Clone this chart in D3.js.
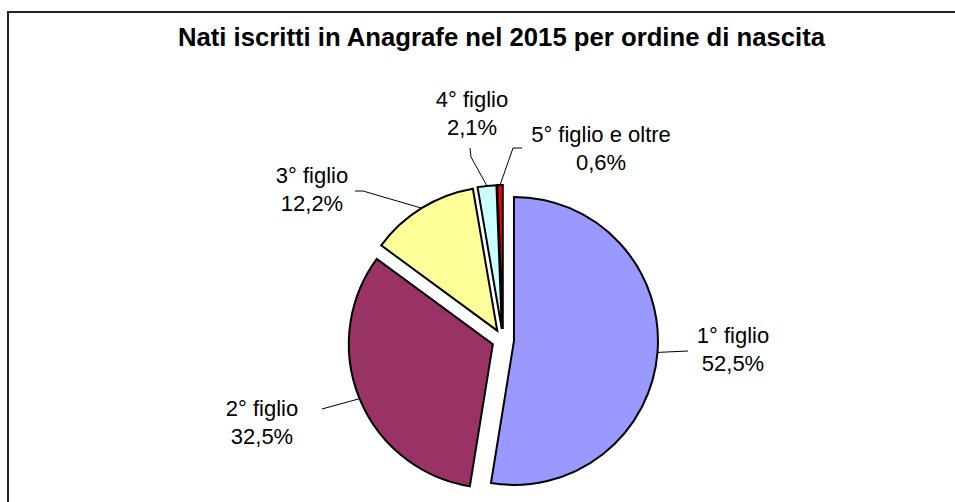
<!DOCTYPE html>
<html><head><meta charset="utf-8">
<script src="https://cdn.jsdelivr.net/npm/d3@7"></script>
<style>body{margin:0;background:#fff;overflow:hidden} svg{display:block}</style>
</head><body><svg id="c" width="955" height="502"></svg>
<script>
const categories = ["1° figlio","2° figlio","3° figlio","4° figlio","5° figlio e oltre"];
const values = [52.5, 32.5, 12.2, 2.1, 0.6];
const valueLabels = ["52,5%","32,5%","12,2%","2,1%","0,6%"];
const colors = ["#9999FF","#993366","#FFFF99","#CCFFFF","#FF0000"];
const titleText = "Nati iscritti in Anagrafe nel 2015 per ordine di nascita";

// layout
const cx = 503, cy = 340, r = 144, explode = 11;
const labelAnchors = [[733,343],[262,416],[312,183],[472,107],[601,142]];
const leaderElbows = [[688,351],[322,409],[363,191],[471,157],[513,148]];
const leaderEnds = [null,null,[355,191],[470,148],[522,148]];

const svg = d3.select("#c");
svg.append("rect").attr("x",8).attr("y",12).attr("width",960).attr("height",500)
  .attr("fill","#fff").attr("stroke","#222").attr("stroke-width",2);

svg.append("text").attr("x",501.5).attr("y",46).attr("text-anchor","middle")
  .attr("font-family","Liberation Sans, Arial, sans-serif").attr("font-weight","bold")
  .attr("font-size",25.7).attr("fill","#000").text(titleText);

const pie = d3.pie().sort(null).value(d=>d);
const arcs = pie(values);
const arc = d3.arc().innerRadius(0).outerRadius(r);
const dir = a => [Math.sin(a), -Math.cos(a)];

const g = svg.append("g").attr("transform",`translate(${cx},${cy})`);
g.selectAll("path").data(arcs).join("path")
  .attr("transform", d => { const m=(d.startAngle+d.endAngle)/2, v=dir(m); return `translate(${v[0]*explode},${v[1]*explode})`; })
  .attr("d", arc)
  .attr("fill", (d,i)=>colors[i])
  .attr("stroke","#000").attr("stroke-width",2).attr("stroke-linejoin","miter");

// leader lines
arcs.forEach((d,i)=>{
  const m=(d.startAngle+d.endAngle)/2, v=dir(m);
  const p0=[cx+v[0]*(r+explode), cy+v[1]*(r+explode)];
  const pts=[p0, leaderElbows[i]];
  if (leaderEnds[i]) pts.push(leaderEnds[i]);
  svg.append("path").attr("d", d3.line()(pts)).attr("fill","none")
    .attr("stroke","#000").attr("stroke-width",1);
});

// labels
arcs.forEach((d,i)=>{
  const t = svg.append("text").attr("text-anchor","middle")
    .attr("font-family","Liberation Sans, Arial, sans-serif").attr("font-size",22).attr("fill","#000");
  t.append("tspan").attr("x",labelAnchors[i][0]).attr("y",labelAnchors[i][1]).text(categories[i]);
  t.append("tspan").attr("x",labelAnchors[i][0]).attr("y",labelAnchors[i][1]+28).text(valueLabels[i]);
});
</script></body></html>
